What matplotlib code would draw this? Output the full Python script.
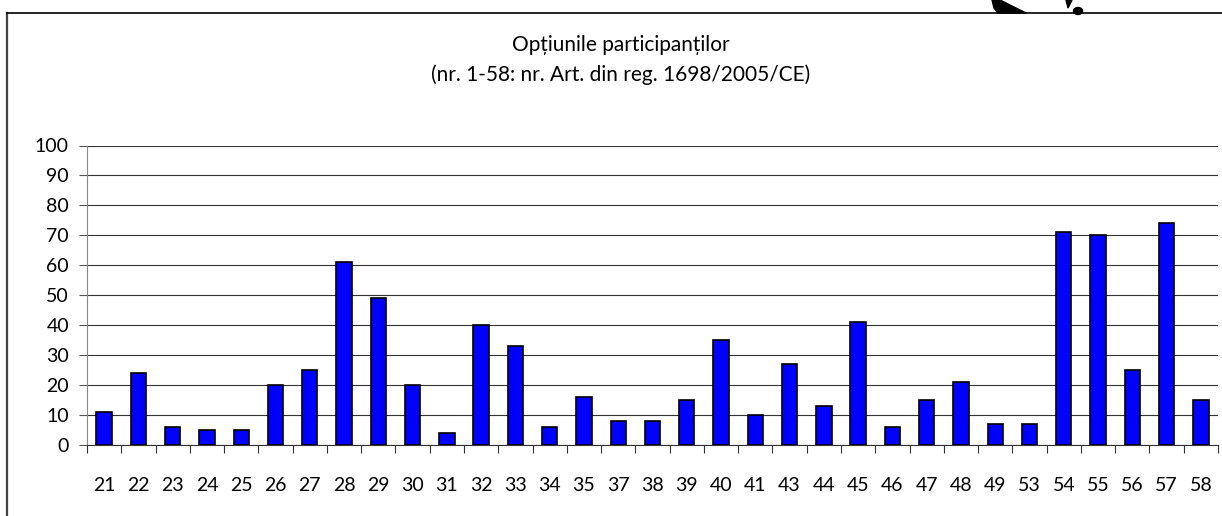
import matplotlib.pyplot as plt
from matplotlib.lines import Line2D
from matplotlib.patches import Polygon, Ellipse

plt.rcParams['font.family'] = ['Lato', 'DejaVu Sans']

# numerele articolelor si optiunile participantilor
articole = ['21', '22', '23', '24', '25', '26', '27', '28', '29', '30', '31',
            '32', '33', '34', '35', '37', '38', '39', '40', '41', '43', '44',
            '45', '46', '47', '48', '49', '53', '54', '55', '56', '57', '58']
optiuni = [11, 24, 6, 5, 5, 20, 25, 61, 49, 20, 4,
           40, 33, 6, 16, 8, 8, 15, 35, 10, 27, 13,
           41, 6, 15, 21, 7, 7, 71, 70, 25, 74, 15]

W, H = 1222, 516
fig = plt.figure(figsize=(W / 100, H / 100), dpi=100)
ax = fig.add_axes([87 / W, (H - 445) / H, (1218 - 87) / W, (445 - 145.5) / H])

poz = list(range(len(articole)))
ax.bar(poz, optiuni, width=0.45, color='#0000ff', edgecolor='black',
       linewidth=1.2, zorder=3)

ax.set_xlim(-0.5, len(articole) - 0.5)
ax.set_ylim(0, 100)
ax.set_yticks(range(0, 101, 10))
ax.tick_params(axis='y', direction='out', length=6, width=0.8,
               color='#555555', pad=7, labelsize=14)

# liniute intre categorii, etichete centrate sub bare
ax.set_xticks([i - 0.5 for i in range(len(articole) + 1)])
ax.set_xticklabels([])
ax.set_xticks(poz, minor=True)
ax.tick_params(axis='x', which='minor', length=0, pad=23, labelsize=14)
ax.set_xticklabels(articole, minor=True)
ax.tick_params(axis='x', which='major', direction='out', length=6, width=0.8,
               color='#333333')

ax.grid(axis='y', color='#333333', linewidth=0.8, zorder=0)
ax.set_axisbelow(True)
for s in ['top', 'right']:
    ax.spines[s].set_visible(False)
ax.spines['left'].set_color('#888888')
ax.spines['left'].set_linewidth(0.8)
ax.spines['bottom'].set_color('#333333')
ax.spines['bottom'].set_linewidth(0.8)

fig.text(621 / W, 1 - 45 / H, 'Opțiunile participanților', ha='center',
         va='center', fontsize=15)
fig.text(621 / W, 1 - 75 / H, '(nr. 1-58: nr. Art. din reg. 1698/2005/CE)',
         ha='center', va='center', fontsize=15)

# chenarul graficului
fig.add_artist(Line2D([7.5 / W, 7.5 / W], [0, 1 - 13 / H], color='#444444',
                      linewidth=1.6))
fig.add_artist(Line2D([7 / W, 1], [1 - 13 / H, 1 - 13 / H], color='black',
                      linewidth=1.2))

# fragment de desen deasupra chenarului
fig.add_artist(Polygon([(992 / W, 1), (1000 / W, 1), (1026 / W, 1 - 13 / H),
                        (998 / W, 1 - 13 / H), (994 / W, 1 - 8 / H)],
                       closed=True, color='black', transform=fig.transFigure))
fig.add_artist(Polygon([(1066 / W, 1), (1072 / W, 1), (1068 / W, 1 - 8 / H)],
                       closed=True, color='black', transform=fig.transFigure))
fig.add_artist(Ellipse((1078 / W, 1 - 11 / H), 9 / W, 7 / H, color='black',
                       transform=fig.transFigure))

fig.savefig('out.png', dpi=100)
